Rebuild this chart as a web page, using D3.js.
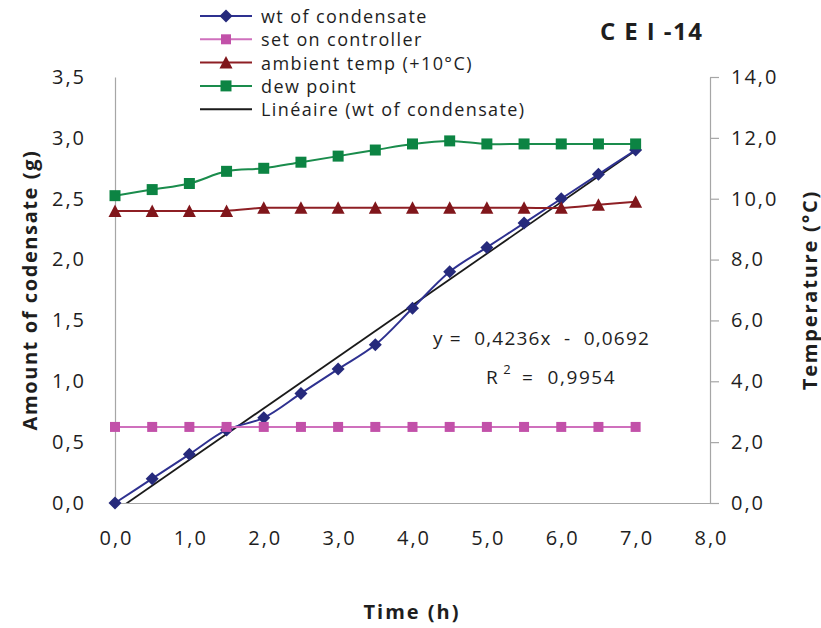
<!DOCTYPE html>
<html>
<head>
<meta charset="utf-8">
<script src="https://cdn.jsdelivr.net/npm/d3@7"></script>
<style>
  html, body { margin: 0; padding: 0; background: #fff; }
  svg { display: block; font-family: "Open Sans", "DejaVu Sans", sans-serif; }
</style>
</head>
<body>
<svg id="chart" width="821" height="628"></svg>
<script>
// Time in hours
const hours = [0, 0.5, 1, 1.5, 2, 2.5, 3, 3.5, 4, 4.5, 5, 5.5, 6, 6.5, 7];
// Weight of condensate (g), primary axis
const condensate = [0, 0.2, 0.4, 0.6, 0.7, 0.9, 1.1, 1.3, 1.6, 1.9, 2.1, 2.3, 2.5, 2.7, 2.9];
// Temperatures (°C), secondary axis
const setOnController = [2.5, 2.5, 2.5, 2.5, 2.5, 2.5, 2.5, 2.5, 2.5, 2.5, 2.5, 2.5, 2.5, 2.5, 2.5];
const ambientTemp = [9.6, 9.6, 9.6, 9.6, 9.7, 9.7, 9.7, 9.7, 9.7, 9.7, 9.7, 9.7, 9.7, 9.8, 9.9];
const dewPoint = [10.1, 10.3, 10.5, 10.9, 11.0, 11.2, 11.4, 11.6, 11.8, 11.9, 11.8, 11.8, 11.8, 11.8, 11.8];
// Linear trend of the condensate weight
const trendSlope = [0.4236];
const trendIntercept = [-0.0692];
const trendR2 = [0.9954];
// Axis ticks
const xTicks = [0, 1, 2, 3, 4, 5, 6, 7, 8];
const yLeftTicks = [0, 0.5, 1, 1.5, 2, 2.5, 3, 3.5];
const yRightTicks = [0, 2, 4, 6, 8, 10, 12, 14];

const legendLabels = ["wt of condensate", "set on controller", "ambient temp (+10°C)", "dew point", "Linéaire (wt of condensate)"];

const svg = d3.select("#chart");
const L = 115, R = 710, T = 77, B = 503;

const x = d3.scaleLinear().domain([0, 8]).range([L, R]);
const yL = d3.scaleLinear().domain([0, 3.5]).range([B, T]);
const yR = d3.scaleLinear().domain([0, 14]).range([B, T]);

const comma = d => d.toFixed(1).replace(".", ",");
const textColor = "#1e1e1e";
const axisColor = "#a6a6a6";

const colors = {
  cond: "#262a7c", condLine: "#2e3190",
  set: "#c251a9", setLine: "#cf70bd",
  amb: "#80161b", ambLine: "#8e1f24",
  dew: "#0c8443", dewLine: "#1a8c4c",
  trend: "#1a1a1a"
};

// Axes
function styleAxis(g) {
  g.select(".domain").attr("stroke", axisColor).attr("stroke-width", 1.2);
  g.selectAll(".tick line").attr("stroke", axisColor).attr("stroke-width", 1.2);
  g.selectAll(".tick text")
    .attr("fill", textColor)
    .attr("font-size", 20)
    .attr("letter-spacing", 2)
    .attr("font-family", "Open Sans, sans-serif");
}

const gx = svg.append("g").attr("transform", `translate(0,${B})`)
  .call(d3.axisBottom(x).tickValues(xTicks).tickFormat(comma).tickSize(0).tickPadding(28));
styleAxis(gx);
gx.selectAll(".tick text").attr("dx", 1);

const gyL = svg.append("g").attr("transform", `translate(${L},0)`)
  .call(d3.axisLeft(yL).tickValues(yLeftTicks).tickFormat(comma).tickSize(0).tickPadding(29));
styleAxis(gyL);

const gyR = svg.append("g").attr("transform", `translate(${R},0)`)
  .call(d3.axisRight(yR).tickValues(yRightTicks).tickFormat(comma).tickSize(9).tickSizeOuter(0).tickPadding(12));
styleAxis(gyR);
gyR.selectAll(".tick text").attr("text-anchor", "start");

// Axis titles
svg.append("text")
  .attr("transform", `translate(29,290) rotate(-90)`)
  .attr("text-anchor", "middle").attr("dominant-baseline", "central")
  .attr("font-size", 20).attr("font-weight", "bold").attr("letter-spacing", 1.6)
  .attr("fill", textColor)
  .text("Amount of codensate (g)");

svg.append("text")
  .attr("transform", `translate(809,290) rotate(-90)`)
  .attr("text-anchor", "middle").attr("dominant-baseline", "central")
  .attr("font-size", 20).attr("font-weight", "bold").attr("letter-spacing", 1.8)
  .attr("fill", textColor)
  .text("Temperature (°C)");

svg.append("text")
  .attr("x", 412).attr("y", 611)
  .attr("text-anchor", "middle").attr("dominant-baseline", "central")
  .attr("font-size", 20).attr("font-weight", "bold").attr("letter-spacing", 2)
  .attr("fill", textColor)
  .text("Time (h)");

// Title
const title = svg.append("text")
  .attr("x", 600).attr("y", 30)
  .attr("dominant-baseline", "central")
  .attr("font-size", 24).attr("font-weight", "bold")
  .attr("fill", textColor);
title.append("tspan").attr("letter-spacing", 9).text("CEI");
title.append("tspan").attr("letter-spacing", 1.5).text("-14");

// Plot clip
svg.append("clipPath").attr("id", "plotClip")
  .append("rect").attr("x", L).attr("y", T).attr("width", R - L).attr("height", B - T);

// Markers
const diamond = "M0,-6.5L6.5,0L0,6.5L-6.5,0Z";
const square = s => `M${-s},${-s}H${s}V${s}H${-s}Z`;
const triangle = "M0,-6.5L6.5,6L-6.5,6Z";

function series(values, yScale, lineColor, markerColor, markerPath, smooth) {
  const pts = hours.map((h, i) => [h, values[i]]);
  const line = d3.line()
    .x(d => x(d[0])).y(d => yScale(d[1]))
    .curve(smooth ? d3.curveCatmullRom.alpha(0.5) : d3.curveLinear);
  const g = svg.append("g");
  g.append("path").datum(pts)
    .attr("d", line).attr("fill", "none")
    .attr("stroke", lineColor).attr("stroke-width", 2);
  g.selectAll("path.m").data(pts).join("path").attr("class", "m")
    .attr("d", markerPath)
    .attr("transform", d => `translate(${x(d[0])},${yScale(d[1])})`)
    .attr("fill", markerColor);
}

// Linear trend line (clipped to the plot area)
const trendLine = d3.line().x(d => x(d)).y(d => yL(trendSlope[0] * d + trendIntercept[0]));
svg.append("path").datum([0, 7])
  .attr("clip-path", "url(#plotClip)")
  .attr("d", trendLine).attr("fill", "none")
  .attr("stroke", colors.trend).attr("stroke-width", 1.8);

series(condensate, yL, colors.condLine, colors.cond, diamond, true);
series(setOnController, yR, colors.setLine, colors.set, square(5), true);
series(ambientTemp, yR, colors.ambLine, colors.amb, triangle, true);
series(dewPoint, yR, colors.dewLine, colors.dew, square(5.5), true);

// Trend equation
const fmt4 = v => Math.abs(v).toFixed(4).replace(".", ",");
svg.append("text")
  .attr("x", 433).attr("y", 338).attr("dominant-baseline", "central")
  .attr("font-size", 19).attr("letter-spacing", 1.2).attr("fill", textColor)
  .attr("xml:space", "preserve")
  .text(`y =  ${fmt4(trendSlope[0])}x  -  ${fmt4(trendIntercept[0])}`);
const r2 = svg.append("text")
  .attr("x", 486).attr("y", 377).attr("dominant-baseline", "central")
  .attr("font-size", 19).attr("letter-spacing", 1.6).attr("fill", textColor)
  .attr("xml:space", "preserve");
r2.append("tspan").text("R");
r2.append("tspan").attr("dy", -8).attr("dx", 4).attr("font-size", 13).text("2");
r2.append("tspan").attr("dy", 8).attr("dx", 3).text(` =  ${fmt4(trendR2[0])}`);

// Legend
const legendItems = [
  { label: legendLabels[0], line: colors.condLine, fill: colors.cond, marker: diamond },
  { label: legendLabels[1], line: colors.setLine, fill: colors.set, marker: square(5) },
  { label: legendLabels[2], line: colors.ambLine, fill: colors.amb, marker: triangle },
  { label: legendLabels[3], line: colors.dewLine, fill: colors.dew, marker: square(5.5) },
  { label: legendLabels[4], line: colors.trend, fill: null, marker: null }
];
const lg = svg.append("g");
legendItems.forEach((it, i) => {
  const cy = 16 + i * 23.3;
  lg.append("line").attr("x1", 200).attr("x2", 252).attr("y1", cy).attr("y2", cy)
    .attr("stroke", it.line).attr("stroke-width", 2);
  if (it.marker) {
    lg.append("path").attr("d", it.marker)
      .attr("transform", `translate(226,${cy})`).attr("fill", it.fill);
  }
  lg.append("text").attr("x", 261).attr("y", cy).attr("dominant-baseline", "central")
    .attr("font-size", 18).attr("letter-spacing", 1.4).attr("fill", textColor)
    .text(it.label);
});
</script>
</body>
</html>
